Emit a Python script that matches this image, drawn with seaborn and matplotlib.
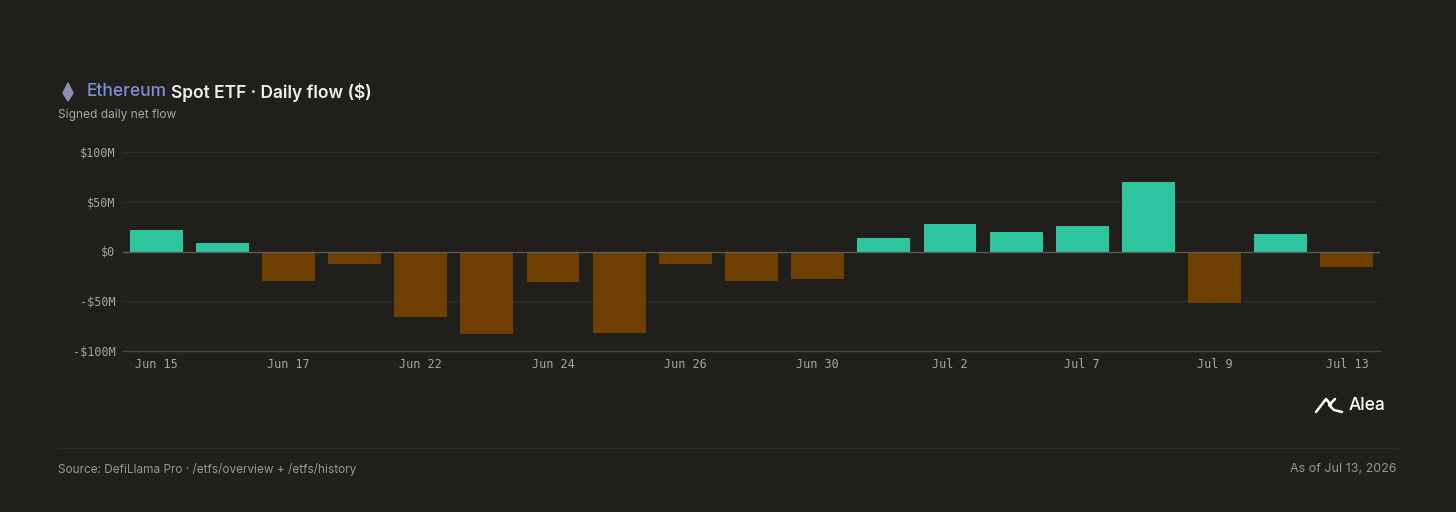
import pandas as pd
import matplotlib.pyplot as plt
import seaborn as sns
from matplotlib.lines import Line2D
from matplotlib.patches import Polygon

dates = ["Jun 15", "Jun 16", "Jun 17", "Jun 18", "Jun 22", "Jun 23", "Jun 24", "Jun 25",
         "Jun 26", "Jun 29", "Jun 30", "Jul 1", "Jul 2", "Jul 6", "Jul 7", "Jul 8",
         "Jul 9", "Jul 10", "Jul 13"]
flows = [22, 9, -30, -13, -66, -83, -31, -82, -13, -30, -28, 14, 28, 20, 26, 70, -52, 18, -16]
ytick_vals = [-100, -50, 0, 50, 100]
ytick_labels = ["-$100M", "-$50M", "$0", "$50M", "$100M"]

bg = "#201f1b"
pos_col = "#2ec4a0"
neg_col = "#6f3f00"

df = pd.DataFrame({"date": dates, "flow": flows})
df["sign"] = ["in" if v >= 0 else "out" for v in df["flow"]]

sns.set_style("dark")
plt.rcParams["font.family"] = ["Inter", "DejaVu Sans"]

fig = plt.figure(figsize=(14.56, 5.12), dpi=100, facecolor=bg)
ax = fig.add_axes([123 / 1456, 1 - 351 / 512, (1380 - 123) / 1456, (351 - 152) / 512])
ax.set_facecolor(bg)

sns.barplot(data=df, x="date", y="flow", hue="sign", palette={"in": pos_col, "out": neg_col},
            dodge=False, legend=False, width=0.8, saturation=1, linewidth=0,
            ax=ax, zorder=3)

ax.set_xlim(-0.5, len(dates) - 0.5)
ax.set_ylim(-100, 100)
ax.set_yticks(ytick_vals)
ax.set_yticklabels(ytick_labels)
ax.set_xticks(range(0, len(dates), 2))
ax.set_xticklabels(dates[::2])
ax.set_xlabel("")
ax.set_ylabel("")

for v in ytick_vals[1:]:
    ax.axhline(v, color="#2f2d28", lw=0.8, zorder=1)
ax.axhline(0, color="#5e5b55", lw=1.0, zorder=4)
ax.grid(False)
for s in ["top", "right", "left"]:
    ax.spines[s].set_visible(False)
ax.spines["bottom"].set_color("#4a4843")
ax.spines["bottom"].set_linewidth(1.0)
ax.tick_params(axis="both", length=0, colors="#a8a59e", labelsize=8.5)
ax.tick_params(axis="x", pad=5)
ax.tick_params(axis="y", pad=5.5)
for lab in ax.get_xticklabels() + ax.get_yticklabels():
    lab.set_fontfamily("DejaVu Sans Mono")

# title
t1 = fig.text(87 / 1456, 1 - 92 / 512, "Ethereum", color="#7d8fd8", fontsize=12.5,
              fontweight="medium", va="center", ha="left")
fig.canvas.draw()
bb = t1.get_window_extent()
fig.text((bb.x1 + 4) / 1456, 1 - 92 / 512, "Spot ETF · Daily flow ($)", color="#f2f0ea",
         fontsize=12.5, fontweight="semibold", va="center", ha="left")
fig.text(58 / 1456, 1 - 115 / 512, "Signed daily net flow", color="#a8a59e", fontsize=8.6,
         va="center", ha="left")

# ethereum diamond
cx, cy = 68, 92
fig.patches.append(Polygon([[cx / 1456, 1 - (cy - 9) / 512], [(cx + 5) / 1456, 1 - (cy + 1) / 512],
                            [cx / 1456, 1 - (cy + 9) / 512], [(cx - 5) / 1456, 1 - (cy + 1) / 512]],
                           closed=True, transform=fig.transFigure, color="#8e8fb8"))

# Alea mark
s1 = [(1316, 412), (1326, 399), (1331, 405)]
s2 = [(1335, 399), (1329, 405), (1334, 410), (1342, 412)]
for stroke in (s1, s2):
    fig.add_artist(Line2D([p[0] / 1456 for p in stroke], [1 - p[1] / 512 for p in stroke],
                          transform=fig.transFigure, color="white", lw=1.8,
                          solid_capstyle="round", solid_joinstyle="round"))
fig.text(1349 / 1456, 1 - 406 / 512, "Alea", color="white", fontsize=12.5, fontweight="medium",
         va="center", ha="left")

# footer
fig.add_artist(Line2D([58 / 1456, 1398 / 1456], [1 - 448 / 512, 1 - 448 / 512],
                      transform=fig.transFigure, color="#2c2a26", lw=0.8))
fig.text(58 / 1456, 1 - 469 / 512, "Source: DefiLlama Pro · /etfs/overview + /etfs/history",
         color="#9a978f", fontsize=8.5, va="center", ha="left")
fig.text(1397 / 1456, 1 - 469 / 512, "As of Jul 13, 2026", color="#9a978f", fontsize=9,
         va="center", ha="right")

fig.savefig("out.png", dpi=100, facecolor=bg)
